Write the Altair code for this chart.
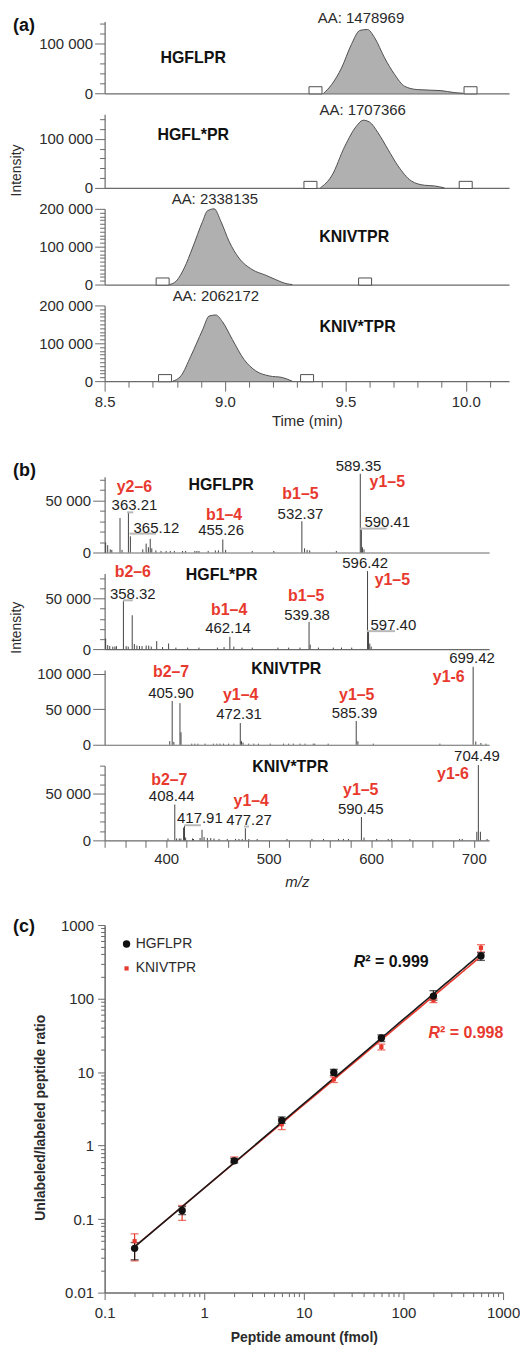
import altair as alt
import pandas as pd

FONT = "Liberation Sans"
AXC = "#6a6a6a"
TXT = "#2b2b2b"
RED = "#e8392e"
FILLC = "#8e8e8e"
EDGE = "#4f4f4f"

# ---------------- Panel (a): extracted ion chromatograms ----------------
a_names = ["HGFLPR", "HGFL*PR", "KNIVTPR", "KNIV*TPR"]
a1_time = [9.41, 9.443, 9.484, 9.525, 9.560, 9.592, 9.622, 9.663, 9.705, 9.746, 9.80, 9.897, 9.952, 9.99]
a1_int = [0, 17600, 51000, 98600, 127000, 129000, 112000, 71600, 37800, 14200, 7400, 5400, 1400, 0]
a2_time = [9.396, 9.443, 9.498, 9.546, 9.574, 9.601, 9.636, 9.677, 9.719, 9.774, 9.829, 9.870, 9.912]
a2_int = [0, 24300, 85000, 125700, 137800, 133800, 112000, 78400, 44600, 14200, 5400, 4000, 0]
a3_time = [8.769, 8.797, 8.831, 8.865, 8.907, 8.927, 8.955, 8.983, 9.017, 9.058, 9.113, 9.169, 9.210, 9.258, 9.28]
a3_int = [0, 8800, 43900, 96500, 166700, 194700, 200000, 166700, 114000, 70000, 39500, 24600, 13200, 1800, 0]
a4_time = [8.783, 8.817, 8.858, 8.907, 8.934, 8.962, 8.989, 9.031, 9.079, 9.128, 9.183, 9.238, 9.279]
a4_int = [0, 13900, 66000, 135600, 172000, 174800, 157400, 109600, 57400, 27000, 13900, 9600, 0]
a_times = [a1_time, a2_time, a3_time, a4_time]
a_ints = [a1_int, a2_int, a3_int, a4_int]

a_title_t = [8.868, 8.868, 9.537, 9.551]
a_title_I = [71600, 106700, 124700, 144200]
a_aa_text = ["AA: 1478969", "AA: 1707366", "AA: 2338135", "AA: 2062172"]
a_aa_t = [9.565, 9.572, 8.958, 8.962]
a_aa_I = [152700, 157900, 225500, 224300]
a_box_t = [[9.376, 10.02], [9.355, 10.0], [8.741, 9.582], [8.751, 9.341]]
a_ymax = [145000, 150000, 200000, 200000]
a_height = [72, 74, 76, 76]
a_yticks_small = [0, 20000, 40000, 60000, 80000, 100000, 120000, 140000]
a_yticks_big = [0, 10000, 20000, 30000, 40000, 50000, 60000, 70000, 80000, 90000, 100000,
                110000, 120000, 130000, 140000, 150000, 160000, 170000, 180000, 190000, 200000]
a_xticks = [8.5, 8.6, 8.7, 8.8, 8.9, 9.0, 9.1, 9.2, 9.3, 9.4, 9.5, 9.6, 9.7, 9.8, 9.9, 10.0, 10.1]

# ---------------- Panel (b): MS/MS spectra ----------------
b_names = ["HGFLPR", "HGFL*PR", "KNIVTPR", "KNIV*TPR"]
b1_mz = [341, 343, 345.5, 347, 355, 357, 363.21, 365.12, 377.2, 380.5, 382.7, 384.5, 386, 390, 395, 400,
         404, 408, 416, 419, 428, 430, 432, 441, 448, 451, 455.26, 458, 484, 505, 532.37, 535, 537.5, 540,
         566, 589.35, 590.41, 591.5, 593]
b1_int = [9500, 7000, 3000, 2500, 33000, 2500, 38500, 15500, 3000, 8500, 5000, 13000, 4000, 2000, 1500, 1500,
          1500, 1500, 1500, 1500, 1500, 1500, 1500, 1500, 2000, 2000, 12500, 2500, 1500, 1500, 30000, 4000, 2500, 2000,
          1500, 75500, 21500, 5000, 3000]
b2_mz = [341, 343, 345, 348, 350, 351.5, 358.32, 361, 363, 366.9, 369, 371.5, 374, 376.5, 380.5, 383, 385.5,
         390.8, 396.5, 402.4, 409.5, 421, 432, 450, 456.5, 462.14, 466, 474, 484, 509, 519.5, 530.5, 539.38,
         540.5, 548.5, 563, 571, 581, 596.42, 597.40, 598.6, 600]
b2_int = [10500, 4000, 3000, 2500, 2500, 3000, 47500, 3000, 2500, 33500, 5000, 3500, 3000, 3000, 3500, 3500, 2500,
          7900, 2000, 5600, 1500, 1500, 1500, 1500, 2000, 12200, 2500, 1500, 1500, 1500, 1500, 1500, 27000,
          4500, 1500, 1500, 1500, 1500, 77300, 17800, 5500, 2500]
b3_mz = [403.5, 405.90, 407.5, 413.5, 414.5, 425, 428, 431, 438, 446, 449.5, 452.5, 456, 461, 466, 472.31,
         473.5, 475, 480.5, 485.5, 490, 501.5, 514.5, 519.5, 524, 530.5, 535.5, 543.5, 545, 558, 585.39, 587,
         602, 667, 699.42, 702, 707, 712]
b3_int = [5000, 61500, 4000, 58500, 17500, 1500, 1500, 1500, 1500, 1500, 1500, 1500, 1500, 1500, 1500, 30500,
          5000, 3000, 1500, 1500, 1500, 1500, 1500, 1500, 1500, 1500, 1500, 1500, 1500, 1500, 33400, 5000,
          1500, 1500, 109500, 4500, 2500, 1500]
b4_mz = [401.8, 408.44, 410.2, 412.8, 414.4, 417, 417.91, 419, 425.7, 426.7, 433.1, 435, 437, 440.2, 443.5,
         446.7, 451.6, 459.6, 467.7, 471, 474.2, 477.27, 480.7, 488.8, 517.9, 542.2, 553.5, 568.1, 572.9, 577.8,
         590.45, 593, 605.3, 616.6, 619.9, 637.7, 686.2, 688.8, 703, 704.49, 706.5, 713]
b4_int = [2000, 38400, 2000, 2000, 2000, 13700, 15500, 3000, 2000, 1500, 2500, 11300, 3500, 2500, 2500,
          2000, 1500, 1500, 1500, 1500, 1500, 13000, 1500, 1500, 1500, 1500, 1500, 1500, 1500, 1500,
          25000, 3000, 1500, 1500, 1500, 1500, 1500, 1500, 9200, 80700, 9200, 1500]
b_mzs = [b1_mz, b2_mz, b3_mz, b4_mz]
b_ints = [b1_int, b2_int, b3_int, b4_int]

b1_lab_text = ["HGFLPR", "y2–6", "363.21", "365.12", "b1–4", "455.26", "b1–5", "532.37", "589.35", "y1–5", "590.41"]
b1_lab_mz = [453.6, 369.1, 369.1, 390.5, 456.5, 453.6, 531.0, 531.0, 587.6, 615.7, 615.7]
b1_lab_I = [64300, 63000, 45200, 23900, 36300, 21300, 56300, 37200, 83400, 67200, 29300]
b1_lab_kind = ["title", "ion", "num", "num", "ion", "num", "ion", "num", "num", "ion", "num"]
b2_lab_text = ["HGFL*PR", "b2–6", "358.32", "b1–4", "462.14", "b1–5", "539.38", "596.42", "y1–5", "597.40"]
b2_lab_mz = [454.1, 367.5, 367.5, 461.4, 460.4, 536.6, 537.4, 594.1, 620.6, 621.6]
b2_lab_I = [73700, 76300, 54900, 38500, 21100, 52700, 33500, 85500, 68000, 23700]
b2_lab_kind = ["title", "ion", "num", "ion", "num", "ion", "num", "num", "ion", "num"]
b3_lab_text = ["KNIVTPR", "b2–7", "405.90", "y1–4", "472.31", "y1–5", "585.39", "y1-6", "699.42"]
b3_lab_mz = [517.2, 404.8, 404.8, 472.7, 471.1, 585.9, 583.7, 675.6, 698.3]
b3_lab_I = [107000, 102400, 73300, 69500, 42800, 69500, 44600, 95400, 122500]
b3_lab_kind = ["title", "ion", "num", "ion", "num", "ion", "num", "ion", "num"]
b4_lab_text = ["KNIV*TPR", "b2–7", "408.44", "417.91", "y1–4", "477.27", "y1–5", "590.45", "y1-6", "704.49"]
b4_lab_mz = [521.2, 403.1, 405.4, 432.9, 483.0, 480.8, 589.8, 589.8, 679.8, 703.1]
b4_lab_I = [78900, 64800, 47100, 24300, 41900, 21800, 54200, 34100, 71100, 90200]
b4_lab_kind = ["title", "ion", "num", "num", "ion", "num", "ion", "num", "ion", "num"]
b_lab = [(b1_lab_text, b1_lab_mz, b1_lab_I, b1_lab_kind), (b2_lab_text, b2_lab_mz, b2_lab_I, b2_lab_kind),
         (b3_lab_text, b3_lab_mz, b3_lab_I, b3_lab_kind), (b4_lab_text, b4_lab_mz, b4_lab_I, b4_lab_kind)]

# grey label leader bars (start m/z, end m/z, intensity)
b_lead_mz = [[362, 364.3, 589.2], [357.8, 595.6], [], [417.7, 475.9]]
b_lead_mz2 = [[368, 390.2, 615.0], [367.5, 623.2], [], [433.9, 480.8]]
b_lead_I = [[38500, 18100, 22900], [48300, 17800], [], [16200, 14800]]

b_ymax = [72600, 75000, 105000, 80000]
b_height = [76, 76, 75, 75]
b_yticks = [[0, 10000, 20000, 30000, 40000, 50000, 60000, 70000],
            [0, 10000, 20000, 30000, 40000, 50000, 60000, 70000],
            [0, 50000, 100000],
            [0, 10000, 20000, 30000, 40000, 50000, 60000, 70000, 80000]]
b_xticks = [340, 360, 380, 400, 420, 440, 460, 480, 500, 520, 540, 560, 580, 600, 620, 640, 660, 680, 700]

# ---------------- Panel (c): calibration ----------------
c_amount = [0.2, 0.6, 2, 6, 20, 60, 200, 600]
c_h_ratio = [0.040, 0.131, 0.62, 2.2, 9.9, 29, 108, 380]
c_h_lo = [0.028, 0.115, 0.58, 2.0, 9.0, 26, 95, 330]
c_h_hi = [0.048, 0.148, 0.67, 2.45, 10.9, 32, 128, 420]
c_k_ratio = [0.050, 0.125, 0.64, 1.95, 8.0, 22, 95, 490]
c_k_lo = [0.027, 0.096, 0.60, 1.65, 7.2, 20, 88, 430]
c_k_hi = [0.063, 0.153, 0.70, 2.3, 8.6, 24, 100, 540]
c_peptides = ["HGFLPR", "KNIVTPR"]
c_r2_text = ["² = 0.999", "² = 0.998"]
c_r2_x = [41.4, 232.8]
c_r2_y = [318, 33.8]
c_leg_sym_x = [0.166, 0.166]
c_leg_txt_x = [0.205, 0.205]
c_leg_y = [552, 257]
c_yticks = [m * 10.0 ** e for e in range(-2, 3) for m in range(1, 10)] + [1000.0]
c_xticks = [m * 10.0 ** e for e in range(-1, 3) for m in range(1, 10)] + [1000.0]

BOX_PATH = "M-1,-0.55L1,-0.55L1,0.55L-1,0.55Z"
MANY = 500


def space_fmt(step):
    return f"datum.value % {step} == 0 ? replace(format(datum.value, ','), ',', ' ') : ''"


def cond_size(test, major, minor):
    return {"condition": {"test": test, "value": major}, "value": minor}


def panel_label(txt, dy):
    return alt.Chart(pd.DataFrame({"label": [txt]})).mark_text(
        align="left", baseline="middle", fontSize=18, fontWeight="bold", color="#111111"
    ).encode(x=alt.value(-92), y=alt.value(dy), text="label:N")


def chrom_panel(i):
    last = i == 3
    xscale = alt.Scale(domain=[8.5, 10.18], nice=False, zero=False)
    half = "abs(datum.value*2 - round(datum.value*2)) < 0.001"
    if last:
        xaxis = alt.Axis(values=a_xticks, tickCount=MANY, title="Time (min)",
                         tickSize=cond_size(half, 10, 6), labelPadding=3,
                         labelFlush=False, labelOverlap=False, titlePadding=5, titleFontSize=15,
                         labelExpr=f"{half} ? format(datum.value, '.1f') : ''")
    else:
        xaxis = alt.Axis(ticks=False, labels=False, title=None)
    yvals = a_yticks_small if i < 2 else a_yticks_big
    ykw = dict(values=yvals, tickCount=MANY, labelExpr=space_fmt(100000),
               tickSize=cond_size("datum.value % 100000 == 0", 10, 5), labelPadding=2, labelOverlap=False)
    if i == 1:
        ykw.update(title="Intensity", titleX=-81, titleY=56, titleFontSize=14)
    else:
        ykw.update(title=None)
    yscale = alt.Scale(domain=[0, a_ymax[i]], nice=False)
    df = pd.DataFrame({"t": a_times[i], "I": a_ints[i]})
    area = alt.Chart(df).mark_area(
        color=FILLC, interpolate="monotone", line={"color": EDGE, "strokeWidth": 1}
    ).encode(x=alt.X("t:Q", scale=xscale, axis=xaxis),
             y=alt.Y("I:Q", scale=yscale, axis=alt.Axis(**ykw)))
    boxes = alt.Chart(pd.DataFrame({"t": a_box_t[i], "I": [0, 0]})).mark_point(
        shape=BOX_PATH, size=170, fill="white", stroke=EDGE, strokeWidth=1, opacity=1, filled=True, yOffset=-3
    ).encode(x="t:Q", y="I:Q")
    title = alt.Chart(pd.DataFrame({"t": [a_title_t[i]], "I": [a_title_I[i]], "label": [a_names[i]]})).mark_text(
        fontSize=16, fontWeight="bold", color="#111111", baseline="middle"
    ).encode(x="t:Q", y="I:Q", text="label:N")
    aa = alt.Chart(pd.DataFrame({"t": [a_aa_t[i]], "I": [a_aa_I[i]], "label": [a_aa_text[i]]})).mark_text(
        fontSize=15, color=TXT, baseline="middle"
    ).encode(x="t:Q", y="I:Q", text="label:N")
    layers = [area, boxes, title, aa]
    if i == 0:
        layers.append(panel_label("(a)", 4))
    return alt.layer(*layers).properties(width=406, height=a_height[i])


def spec_panel(i):
    last = i == 3
    xscale = alt.Scale(domain=[340, 715], nice=False, zero=False)
    if last:
        xaxis = alt.Axis(values=b_xticks, tickCount=MANY, title="m/z", titleFontStyle="italic", tickSize=7,
                         labelPadding=4, labelFlush=False, labelOverlap=False, titlePadding=8, titleFontSize=15,
                         labelExpr="datum.value % 100 == 0 ? format(datum.value, 'd') : ''")
    else:
        xaxis = alt.Axis(ticks=False, labels=False, title=None)
    ykw = dict(values=b_yticks[i], tickCount=MANY, labelExpr=space_fmt(50000),
               tickSize=cond_size("datum.value % 50000 == 0", 12, 5), labelPadding=2, labelOverlap=False)
    if i == 1:
        ykw.update(title="Intensity", titleX=-81, titleY=54, titleFontSize=14)
    else:
        ykw.update(title=None)
    yscale = alt.Scale(domain=[0, b_ymax[i]], nice=False)
    df = pd.DataFrame({"mz": b_mzs[i], "I": b_ints[i]})
    df["base"] = 0
    sticks = alt.Chart(df).mark_rule(color="#444444", strokeWidth=1).encode(
        x=alt.X("mz:Q", scale=xscale, axis=xaxis),
        y=alt.Y("I:Q", scale=yscale, axis=alt.Axis(**ykw)),
        y2="base:Q")
    txt, mz, inten, kind = b_lab[i]
    ldf = pd.DataFrame({"mz": mz, "I": inten, "label": txt, "kind": kind})
    layers = [sticks]
    if b_lead_mz[i]:
        lead = pd.DataFrame({"mz": b_lead_mz[i], "mz2": b_lead_mz2[i], "I": b_lead_I[i]})
        layers.append(alt.Chart(lead).mark_rule(color="#b8b8b8", strokeWidth=2).encode(
            x="mz:Q", x2="mz2:Q", y="I:Q"))
    layers.append(alt.Chart(ldf).transform_filter(alt.datum.kind == "num").mark_text(
        fontSize=15, color="#1e1e1e", baseline="middle").encode(x="mz:Q", y="I:Q", text="label:N"))
    layers.append(alt.Chart(ldf).transform_filter(alt.datum.kind == "ion").mark_text(
        fontSize=16, fontWeight="bold", color=RED, baseline="middle").encode(x="mz:Q", y="I:Q", text="label:N"))
    layers.append(alt.Chart(ldf).transform_filter(alt.datum.kind == "title").mark_text(
        fontSize=16, fontWeight="bold", color="#111111", baseline="middle").encode(x="mz:Q", y="I:Q", text="label:N"))
    if i == 0:
        layers.append(panel_label("(b)", -6))
    return alt.layer(*layers).properties(width=386, height=b_height[i])


def calib_panel():
    n = len(c_amount)
    df = pd.DataFrame({
        "amount": c_amount + c_amount,
        "ratio": c_h_ratio + c_k_ratio,
        "lo": c_h_lo + c_k_lo,
        "hi": c_h_hi + c_k_hi,
        "peptide": [c_peptides[0]] * n + [c_peptides[1]] * n,
    })
    xscale = alt.Scale(type="log", domain=[0.1, 1000], nice=False)
    yscale = alt.Scale(type="log", domain=[0.01, 1000], nice=False)
    decade = "abs(log(datum.value)/LN10 - round(log(datum.value)/LN10)) < 0.001"
    dec = f"{decade} ? format(datum.value, '~g') : ''"
    xaxis = alt.Axis(values=c_xticks, tickCount=MANY, labelExpr=dec, title="Peptide amount (fmol)",
                     titleFontWeight="bold", titleFontSize=14, tickSize=cond_size(decade, 7, 4), labelPadding=6,
                     titlePadding=10, labelFlush=False, labelOverlap=False, domainWidth=1.5)
    yaxis = alt.Axis(values=c_yticks, tickCount=MANY, labelExpr=dec, title="Unlabeled/labeled peptide ratio",
                     titleFontWeight="bold", titleFontSize=14, tickSize=cond_size(decade, 7, 4), labelPadding=4,
                     labelFlush=False, labelOverlap=False, titleX=-57, titleY=193, domainWidth=1.5)
    colors = ["#1a1a1a", RED]
    base = alt.Chart(df).mark_point(opacity=0).encode(
        x=alt.X("amount:Q", scale=xscale, axis=xaxis),
        y=alt.Y("ratio:Q", scale=yscale, axis=yaxis))
    layers = [base]
    for pep, col in zip(c_peptides[::-1], colors[::-1]):
        sub = alt.Chart(df).transform_filter(alt.datum.peptide == pep)
        layers.append(sub.mark_rule(color=col, strokeWidth=1.2).encode(x="amount:Q", y="lo:Q", y2="hi:Q"))
        layers.append(sub.mark_tick(orient="horizontal", size=8, thickness=1.3, color=col).encode(
            x="amount:Q", y="lo:Q"))
        layers.append(sub.mark_tick(orient="horizontal", size=8, thickness=1.3, color=col).encode(
            x="amount:Q", y="hi:Q"))
    for pep, col in zip(c_peptides[::-1], colors[::-1]):
        layers.append(alt.Chart(df).transform_filter(alt.datum.peptide == pep).transform_regression(
            "amount", "ratio", method="pow", extent=[0.2, 600]).mark_line(color=col, strokeWidth=1.6).encode(
            x="amount:Q", y="ratio:Q"))
    # points (red squares first, black circles on top)
    layers.append(alt.Chart(df).transform_filter(alt.datum.peptide == c_peptides[1]).mark_point(
        shape="square", filled=True, size=18, color=RED, opacity=1).encode(x="amount:Q", y="ratio:Q"))
    layers.append(alt.Chart(df).transform_filter(alt.datum.peptide == c_peptides[0]).mark_point(
        shape="circle", filled=True, size=55, color="#111111", opacity=1).encode(x="amount:Q", y="ratio:Q"))
    # key
    key = pd.DataFrame({"amount": c_leg_sym_x, "tx": c_leg_txt_x, "ratio": c_leg_y, "peptide": c_peptides})
    layers.append(alt.Chart(key).transform_filter(alt.datum.peptide == c_peptides[0]).mark_point(
        shape="circle", filled=True, size=55, color="#111111", opacity=1).encode(x="amount:Q", y="ratio:Q"))
    layers.append(alt.Chart(key).transform_filter(alt.datum.peptide == c_peptides[1]).mark_point(
        shape="square", filled=True, size=18, color=RED, opacity=1).encode(x="amount:Q", y="ratio:Q"))
    layers.append(alt.Chart(key).mark_text(align="left", baseline="middle", fontSize=14, color=TXT).encode(
        x="tx:Q", y="ratio:Q", text="peptide:N"))
    for k in range(2):
        rdf = pd.DataFrame({"amount": [c_r2_x[k]], "ratio": [c_r2_y[k]], "r": ["R"], "rest": [c_r2_text[k]]})
        col = "#111111" if k == 0 else RED
        layers.append(alt.Chart(rdf).mark_text(fontSize=16, fontWeight="bold", fontStyle="italic", align="right",
                                               baseline="middle", color=col).encode(
            x="amount:Q", y="ratio:Q", text="r:N"))
        layers.append(alt.Chart(rdf).mark_text(fontSize=16, fontWeight="bold", align="left",
                                               baseline="middle", color=col).encode(
            x="amount:Q", y="ratio:Q", text="rest:N"))
    layers.append(panel_label("(c)", 2))
    return alt.layer(*layers).properties(width=400, height=369)


A = alt.vconcat(*[chrom_panel(i) for i in range(4)], spacing=21, bounds="flush")
B = alt.vconcat(*[spec_panel(i) for i in range(4)], spacing=21, bounds="flush")
C = calib_panel()

chart = alt.vconcat(A, B, C, spacing=29).properties(
    padding={"left": 2, "top": 0, "right": 0, "bottom": 0}
).configure(font=FONT).configure_view(stroke=None).configure_axis(
    grid=False, domainColor=AXC, tickColor=AXC, labelColor=TXT, titleColor=TXT,
    labelFont=FONT, titleFont=FONT, labelFontSize=15, titleFontWeight="normal",
    domainWidth=1.2, tickWidth=1
)

chart.save("out.html", embed_options={"renderer": "svg", "actions": False})
